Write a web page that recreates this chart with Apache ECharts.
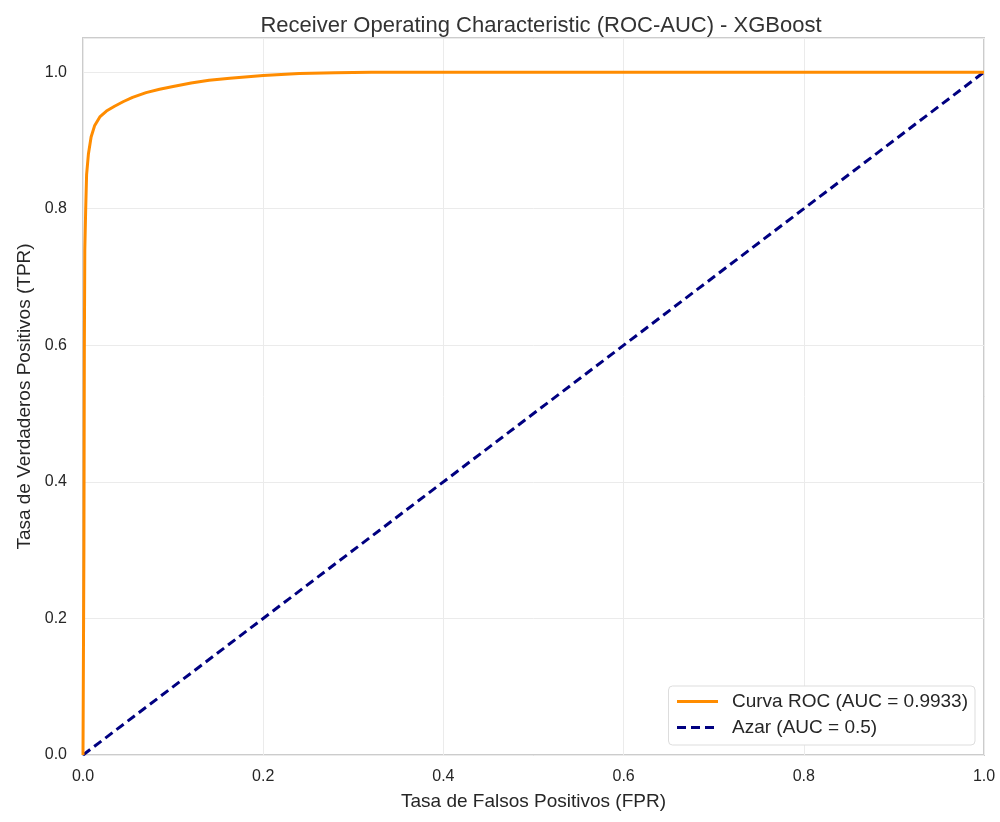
<!DOCTYPE html>
<html>
<head>
<meta charset="utf-8">
<script src="https://cdn.jsdelivr.net/npm/echarts@6/dist/echarts.min.js"></script>
<style>
  html, body { margin: 0; padding: 0; background: #fff; }
  #chart { width: 1000px; height: 822px; }
</style>
</head>
<body>
<div id="chart"></div>
<script>
// curva ROC
const fpr = [0, 0.001, 0.0015, 0.002, 0.003, 0.004, 0.006, 0.009, 0.013, 0.019, 0.026, 0.035, 0.045, 0.055, 0.07, 0.085, 0.1, 0.12, 0.14, 0.163, 0.2, 0.24, 0.28, 0.32, 0.5, 0.75, 1.0];
const tpr = [0, 0.3, 0.6, 0.74, 0.8, 0.85, 0.88, 0.905, 0.922, 0.935, 0.943, 0.95, 0.957, 0.963, 0.97, 0.975, 0.979, 0.984, 0.988, 0.991, 0.995, 0.998, 0.999, 1.0, 1.0, 1.0, 1.0];
const randX = [0, 1];
const randY = [0, 1];
const seriesNames = ['Curva ROC (AUC = 0.9933)', 'Azar (AUC = 0.5)'];
const yTicks = [0, 0.2, 0.4, 0.6, 0.8, 1.0];

const chart = echarts.init(document.getElementById('chart'));
const txt = '#262626';
const font = 'Liberation Sans, Arial, sans-serif';

chart.setOption({
  animation: false,
  textStyle: { fontFamily: font },
  title: {
    text: 'Receiver Operating Characteristic (ROC-AUC) - XGBoost',
    left: 536, top: 10, textAlign: 'center',
    textStyle: { fontSize: 22, fontWeight: 'normal', color: '#333333', fontFamily: font }
  },
  grid: {
    left: 83, right: 16, top: 38, bottom: 67,
    show: true, borderColor: '#cccccc', borderWidth: 2, backgroundColor: '#fff'
  },
  legend: {
    data: seriesNames,
    orient: 'vertical',
    right: 25, bottom: 77,
    itemWidth: 41, itemHeight: 14, itemGap: 7,
    padding: [6, 7, 8, 7],
    itemStyle: { opacity: 0 },
    lineStyle: { width: 3 },
    backgroundColor: '#fff', borderColor: '#dddddd', borderWidth: 1, borderRadius: 4,
    textStyle: { fontSize: 19, color: txt, fontFamily: font, padding: [0, 0, 0, 9] }
  },
  xAxis: {
    type: 'value', min: 0, max: 1, interval: 0.2,
    name: 'Tasa de Falsos Positivos (FPR)', nameLocation: 'middle', nameGap: 37,
    nameTextStyle: { fontSize: 19, color: txt },
    axisLine: { show: false }, axisTick: { show: false },
    axisLabel: { fontSize: 16, color: txt, margin: 14, formatter: v => v.toFixed(1) },
    splitLine: { lineStyle: { color: '#ebebeb', width: 1 } }
  },
  yAxis: {
    type: 'value', min: 0, max: 1.05, interval: 0.2,
    name: 'Tasa de Verdaderos Positivos (TPR)', nameLocation: 'middle', nameGap: 46,
    nameTextStyle: { fontSize: 19, color: txt },
    axisLine: { show: false }, axisTick: { show: false },
    axisLabel: { fontSize: 16, color: txt, margin: 16, showMaxLabel: false,
      formatter: v => (yTicks.some(t => Math.abs(t - v) < 1e-6) ? v.toFixed(1) : '') },
    splitLine: { lineStyle: { color: '#ebebeb', width: 1 } }
  },
  series: [
    {
      name: seriesNames[0], type: 'line', symbol: 'none', smooth: false,
      data: fpr.map((x, i) => [x, tpr[i]]),
      itemStyle: { color: '#ff8c00' },
      lineStyle: { color: '#ff8c00', width: 3 }, z: 3
    },
    {
      name: seriesNames[1], type: 'line', symbol: 'none',
      data: randX.map((x, i) => [x, randY[i]]),
      itemStyle: { color: '#000080' },
      lineStyle: { color: '#000080', width: 3, type: [9, 5] }, z: 2
    }
  ]
});
</script>
</body>
</html>
